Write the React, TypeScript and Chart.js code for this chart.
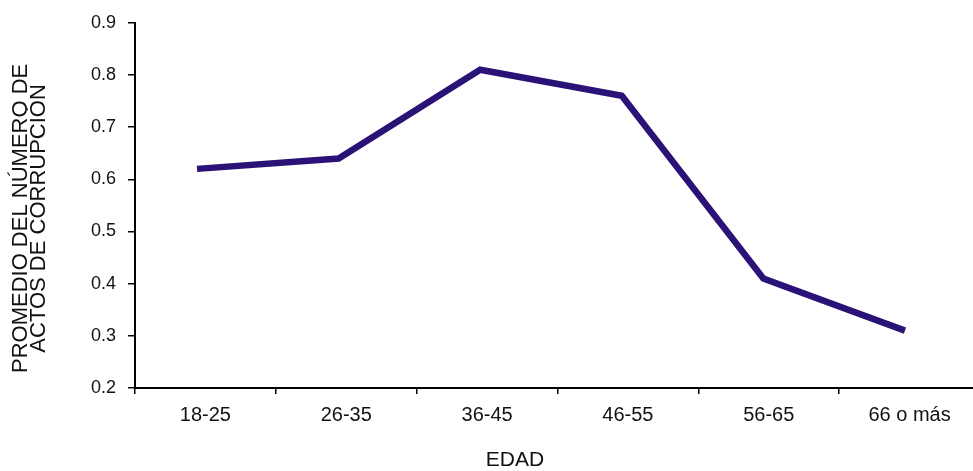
import React, { useEffect, useRef } from 'react';
import { Chart, registerables } from 'chart.js';

Chart.register(...registerables);

const categories = ['18-25', '26-35', '36-45', '46-55', '56-65', '66 o más'];
const values = [0.62, 0.64, 0.81, 0.76, 0.41, 0.31];
const yMin = 0.2;
const yMax = 0.9;
const yStep = 0.1;
const yTitle = ['PROMEDIO DEL NÚMERO DE', 'ACTOS DE CORRUPCIÓN'];
const xTitle = 'EDAD';

const FAMILY = '"Liberation Sans", Arial, Helvetica, sans-serif';
const INK = '#000000';
const LINE = '#2b1276';

export default function App() {
  const ref = useRef<HTMLCanvasElement>(null);

  useEffect(() => {
    if (!ref.current) return;
    const titlePlugin = {
      id: 'axisTitles',
      afterDraw(chart: any) {
        const ctx = chart.ctx as CanvasRenderingContext2D;
        const area = chart.chartArea;
        ctx.save();
        ctx.fillStyle = '#111111';
        ctx.font = `21px ${FAMILY}`;
        ctx.textAlign = 'center';
        ctx.textBaseline = 'middle';
        ctx.fillText(xTitle, area.left + 380, area.bottom + 72);
        ctx.font = `22px ${FAMILY}`;
        ctx.translate(0, (area.top + area.bottom) / 2 + 13);
        ctx.rotate(-Math.PI / 2);
        yTitle.forEach((t, i) => ctx.fillText(t, 0, 21 + i * 18));
        ctx.restore();
      },
    };

    const chart = new Chart(ref.current, {
      type: 'line',
      data: {
        labels: categories,
        datasets: [
          {
            data: values.map((v, i) => ({ x: i, y: v })),
            xAxisID: 'xl',
            yAxisID: 'y',
            borderColor: LINE,
            backgroundColor: LINE,
            borderWidth: 6.5,
            pointRadius: 0,
            tension: 0,
            fill: false,
            borderJoinStyle: 'miter',
          } as any,
        ],
      },
      options: {
        responsive: false,
        animation: false,
        layout: { padding: { top: 19, right: 0, bottom: 0, left: 0 } },
        plugins: { legend: { display: false }, tooltip: { enabled: false } },
        scales: {
          x: {
            type: 'category',
            offset: true,
            grid: {
              display: true,
              drawOnChartArea: false,
              drawTicks: true,
              tickLength: 6,
              offset: true,
              color: INK,
              lineWidth: 1.5,
            },
            border: { display: true, color: INK, width: 2 },
            ticks: {
              color: '#111111',
              font: { family: FAMILY, size: 20 },
              padding: 9,
              autoSkip: false,
              maxRotation: 0,
            },
            afterFit: (s: any) => {
              s.height = 83;
            },
          },
          xl: {
            type: 'linear',
            display: false,
            min: -0.438,
            max: 5.53,
          },
          y: {
            min: yMin,
            max: yMax,
            ticks: {
              stepSize: yStep,
              callback: (v: any) => Number(v).toFixed(1),
              color: '#111111',
              font: { family: FAMILY, size: 18 },
              padding: 12,
            },
            grid: {
              display: true,
              drawOnChartArea: false,
              drawTicks: true,
              tickLength: 7,
              color: INK,
              lineWidth: 1.5,
            },
            border: { display: true, color: INK, width: 2 },
            afterFit: (s: any) => {
              s.width = 135;
            },
          },
        },
      } as any,
      plugins: [titlePlugin],
    });
    return () => chart.destroy();
  }, []);

  return (
    <div
      style={{
        position: 'fixed',
        left: 0,
        top: 0,
        width: 973,
        height: 471,
        overflow: 'hidden',
        background: '#ffffff',
      }}
    >
      <canvas ref={ref} width={980} height={471} style={{ display: 'block', width: 980, height: 471 }} />
    </div>
  );
}
